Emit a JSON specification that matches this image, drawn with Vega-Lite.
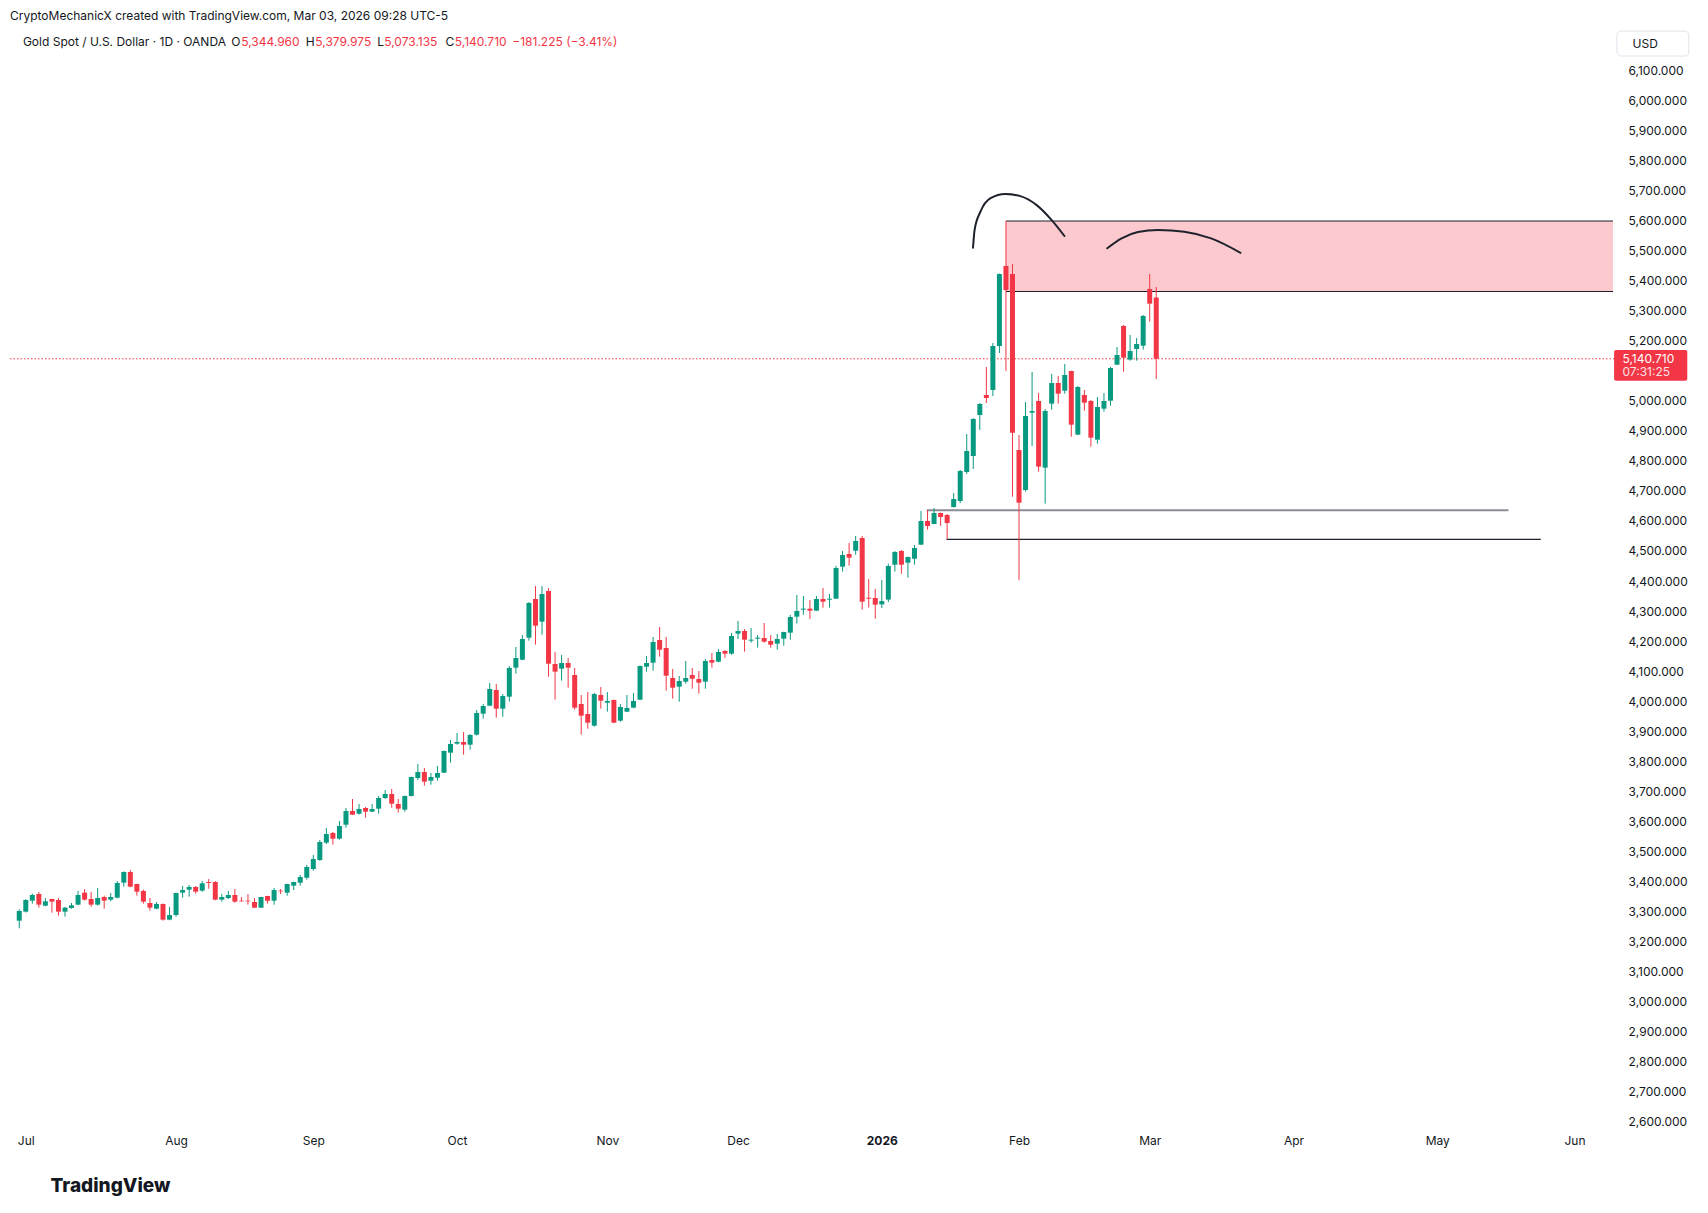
{
  "$schema": "https://vega.github.io/schema/vega-lite/v6.json",
  "width": 1608,
  "height": 1097,
  "autosize": {"type": "none"},
  "padding": {"left": 10, "top": 28, "right": 90, "bottom": 88},
  "background": "#ffffff",
  "title": {
    "text": "CryptoMechanicX created with TradingView.com, Mar 03, 2026 09:28 UTC-5",
    "anchor": "start",
    "frame": "group",
    "offset": 0,
    "baseline": "middle",
    "font": "Inter",
    "fontSize": 12,
    "fontWeight": 400,
    "color": "#131722"
  },
  "config": {
    "view": {"stroke": null},
    "font": "Inter",
    "axis": {
      "labelFlush": false,
      "labelOverlap": false,
      "labelBound": false,
      "grid": false,
      "domain": false,
      "ticks": false,
      "labelFont": "Inter",
      "labelFontSize": 12,
      "labelColor": "#131722",
      "labelPadding": 10,
      "titleFont": "Inter",
      "titleColor": "#131722"
    }
  },
  "datasets": {
    "bars": [
      {"bar": 1, "open": 3267.8, "high": 3305.6, "low": 3242.3, "close": 3300.0},
      {"bar": 2, "open": 3297.8, "high": 3340.0, "low": 3295.0, "close": 3336.7},
      {"bar": 3, "open": 3334.5, "high": 3357.8, "low": 3324.5, "close": 3353.4},
      {"bar": 4, "open": 3356.7, "high": 3363.4, "low": 3311.2, "close": 3321.2},
      {"bar": 5, "open": 3317.8, "high": 3343.4, "low": 3316.0, "close": 3332.3},
      {"bar": 6, "open": 3340.0, "high": 3341.0, "low": 3294.5, "close": 3331.2},
      {"bar": 7, "open": 3336.7, "high": 3343.4, "low": 3284.5, "close": 3297.8},
      {"bar": 8, "open": 3297.8, "high": 3313.4, "low": 3281.2, "close": 3311.2},
      {"bar": 9, "open": 3310.0, "high": 3326.7, "low": 3307.8, "close": 3318.9},
      {"bar": 10, "open": 3321.2, "high": 3366.7, "low": 3319.0, "close": 3353.4},
      {"bar": 11, "open": 3361.1, "high": 3373.4, "low": 3335.0, "close": 3337.8},
      {"bar": 12, "open": 3340.0, "high": 3363.4, "low": 3314.5, "close": 3321.2},
      {"bar": 13, "open": 3321.2, "high": 3376.7, "low": 3317.8, "close": 3343.4},
      {"bar": 14, "open": 3346.7, "high": 3351.2, "low": 3307.8, "close": 3334.5},
      {"bar": 15, "open": 3337.8, "high": 3360.0, "low": 3332.3, "close": 3346.7},
      {"bar": 16, "open": 3344.5, "high": 3400.0, "low": 3342.0, "close": 3393.4},
      {"bar": 17, "open": 3394.5, "high": 3432.0, "low": 3381.2, "close": 3430.0},
      {"bar": 18, "open": 3430.0, "high": 3436.7, "low": 3379.0, "close": 3381.2},
      {"bar": 19, "open": 3390.0, "high": 3391.0, "low": 3351.2, "close": 3364.5},
      {"bar": 20, "open": 3366.7, "high": 3371.2, "low": 3324.5, "close": 3331.2},
      {"bar": 21, "open": 3326.7, "high": 3343.4, "low": 3301.2, "close": 3311.2},
      {"bar": 22, "open": 3307.8, "high": 3330.0, "low": 3306.0, "close": 3323.4},
      {"bar": 23, "open": 3323.4, "high": 3325.0, "low": 3267.8, "close": 3271.2},
      {"bar": 24, "open": 3271.2, "high": 3313.4, "low": 3269.0, "close": 3286.7},
      {"bar": 25, "open": 3286.7, "high": 3361.0, "low": 3281.2, "close": 3360.0},
      {"bar": 26, "open": 3361.1, "high": 3383.3, "low": 3344.4, "close": 3370.0},
      {"bar": 27, "open": 3371.1, "high": 3386.7, "low": 3347.8, "close": 3380.0},
      {"bar": 28, "open": 3380.0, "high": 3383.3, "low": 3357.8, "close": 3364.4},
      {"bar": 29, "open": 3367.8, "high": 3400.0, "low": 3364.4, "close": 3392.2},
      {"bar": 30, "open": 3396.7, "high": 3406.7, "low": 3374.4, "close": 3393.3},
      {"bar": 31, "open": 3396.7, "high": 3400.0, "low": 3336.0, "close": 3337.8},
      {"bar": 32, "open": 3337.8, "high": 3356.7, "low": 3331.1, "close": 3346.7},
      {"bar": 33, "open": 3343.3, "high": 3366.7, "low": 3340.0, "close": 3353.3},
      {"bar": 34, "open": 3353.3, "high": 3373.3, "low": 3327.8, "close": 3331.1},
      {"bar": 35, "open": 3334.4, "high": 3346.7, "low": 3331.1, "close": 3332.2},
      {"bar": 36, "open": 3334.4, "high": 3356.7, "low": 3321.1, "close": 3332.2},
      {"bar": 37, "open": 3330.0, "high": 3343.3, "low": 3310.0, "close": 3311.1},
      {"bar": 38, "open": 3311.1, "high": 3347.0, "low": 3310.0, "close": 3346.7},
      {"bar": 39, "open": 3350.0, "high": 3351.0, "low": 3324.4, "close": 3334.4},
      {"bar": 40, "open": 3334.4, "high": 3376.7, "low": 3321.1, "close": 3370.0},
      {"bar": 41, "open": 3367.8, "high": 3373.3, "low": 3356.7, "close": 3365.6},
      {"bar": 42, "open": 3361.1, "high": 3391.0, "low": 3351.1, "close": 3390.0},
      {"bar": 43, "open": 3384.4, "high": 3398.0, "low": 3370.0, "close": 3396.7},
      {"bar": 44, "open": 3394.4, "high": 3420.0, "low": 3384.4, "close": 3413.3},
      {"bar": 45, "open": 3411.1, "high": 3453.3, "low": 3404.4, "close": 3446.7},
      {"bar": 46, "open": 3440.0, "high": 3486.7, "low": 3434.4, "close": 3473.3},
      {"bar": 47, "open": 3470.0, "high": 3536.7, "low": 3466.7, "close": 3530.0},
      {"bar": 48, "open": 3527.8, "high": 3576.7, "low": 3523.3, "close": 3556.7},
      {"bar": 49, "open": 3560.0, "high": 3563.3, "low": 3521.1, "close": 3541.1},
      {"bar": 50, "open": 3541.1, "high": 3600.0, "low": 3537.8, "close": 3583.3},
      {"bar": 51, "open": 3587.8, "high": 3643.3, "low": 3577.8, "close": 3633.3},
      {"bar": 52, "open": 3633.3, "high": 3673.3, "low": 3620.0, "close": 3621.1},
      {"bar": 53, "open": 3624.4, "high": 3656.7, "low": 3621.1, "close": 3640.0},
      {"bar": 54, "open": 3643.3, "high": 3646.7, "low": 3611.1, "close": 3631.1},
      {"bar": 55, "open": 3631.1, "high": 3656.7, "low": 3630.0, "close": 3640.0},
      {"bar": 56, "open": 3641.1, "high": 3683.3, "low": 3624.4, "close": 3676.7},
      {"bar": 57, "open": 3676.7, "high": 3703.3, "low": 3673.3, "close": 3690.0},
      {"bar": 58, "open": 3690.0, "high": 3706.7, "low": 3644.4, "close": 3657.8},
      {"bar": 59, "open": 3656.7, "high": 3673.3, "low": 3627.8, "close": 3641.1},
      {"bar": 60, "open": 3637.8, "high": 3685.0, "low": 3631.1, "close": 3683.3},
      {"bar": 61, "open": 3683.3, "high": 3748.0, "low": 3682.0, "close": 3746.7},
      {"bar": 62, "open": 3743.3, "high": 3790.0, "low": 3736.7, "close": 3763.3},
      {"bar": 63, "open": 3763.3, "high": 3776.7, "low": 3717.8, "close": 3731.1},
      {"bar": 64, "open": 3734.4, "high": 3760.0, "low": 3721.1, "close": 3746.7},
      {"bar": 65, "open": 3744.4, "high": 3783.3, "low": 3734.4, "close": 3760.0},
      {"bar": 66, "open": 3761.1, "high": 3835.0, "low": 3760.0, "close": 3833.3},
      {"bar": 67, "open": 3827.8, "high": 3870.0, "low": 3794.4, "close": 3856.7},
      {"bar": 68, "open": 3857.8, "high": 3893.3, "low": 3854.4, "close": 3863.3},
      {"bar": 69, "open": 3863.3, "high": 3896.7, "low": 3821.1, "close": 3854.4},
      {"bar": 70, "open": 3854.4, "high": 3890.0, "low": 3837.8, "close": 3886.7},
      {"bar": 71, "open": 3887.8, "high": 3970.0, "low": 3884.4, "close": 3960.0},
      {"bar": 72, "open": 3957.8, "high": 3990.0, "low": 3941.1, "close": 3983.3},
      {"bar": 73, "open": 3984.4, "high": 4060.0, "low": 3983.0, "close": 4040.0},
      {"bar": 74, "open": 4036.7, "high": 4056.7, "low": 3944.4, "close": 3974.4},
      {"bar": 75, "open": 3974.4, "high": 4023.3, "low": 3947.8, "close": 4016.7},
      {"bar": 76, "open": 4014.4, "high": 4116.7, "low": 3997.8, "close": 4110.0},
      {"bar": 77, "open": 4111.1, "high": 4180.0, "low": 4091.1, "close": 4143.3},
      {"bar": 78, "open": 4137.8, "high": 4220.0, "low": 4136.0, "close": 4206.7},
      {"bar": 79, "open": 4211.1, "high": 4330.0, "low": 4201.1, "close": 4326.7},
      {"bar": 80, "open": 4340.0, "high": 4383.3, "low": 4187.8, "close": 4251.1},
      {"bar": 81, "open": 4264.4, "high": 4383.3, "low": 4221.1, "close": 4356.7},
      {"bar": 82, "open": 4366.7, "high": 4376.7, "low": 4081.1, "close": 4124.4},
      {"bar": 83, "open": 4123.3, "high": 4163.3, "low": 4004.4, "close": 4097.8},
      {"bar": 84, "open": 4107.8, "high": 4153.3, "low": 4067.8, "close": 4126.7},
      {"bar": 85, "open": 4126.7, "high": 4143.3, "low": 4044.4, "close": 4111.1},
      {"bar": 86, "open": 4086.7, "high": 4110.0, "low": 3971.1, "close": 3977.8},
      {"bar": 87, "open": 3990.0, "high": 4020.0, "low": 3887.8, "close": 3951.1},
      {"bar": 88, "open": 3956.7, "high": 4030.0, "low": 3907.8, "close": 3927.8},
      {"bar": 89, "open": 3917.8, "high": 4026.7, "low": 3914.4, "close": 4023.3},
      {"bar": 90, "open": 4020.0, "high": 4046.7, "low": 3974.4, "close": 4001.1},
      {"bar": 91, "open": 3994.4, "high": 4030.0, "low": 3964.4, "close": 4000.0},
      {"bar": 92, "open": 4003.3, "high": 4005.0, "low": 3926.0, "close": 3927.8},
      {"bar": 93, "open": 3934.4, "high": 3990.0, "low": 3931.1, "close": 3980.0},
      {"bar": 94, "open": 3964.4, "high": 4020.0, "low": 3963.0, "close": 3976.7},
      {"bar": 95, "open": 3977.8, "high": 4026.7, "low": 3976.0, "close": 4000.0},
      {"bar": 96, "open": 4004.4, "high": 4118.0, "low": 4003.0, "close": 4116.7},
      {"bar": 97, "open": 4114.4, "high": 4150.0, "low": 4097.8, "close": 4126.7},
      {"bar": 98, "open": 4127.8, "high": 4213.3, "low": 4101.1, "close": 4196.7},
      {"bar": 99, "open": 4203.3, "high": 4246.7, "low": 4147.8, "close": 4171.1},
      {"bar": 100, "open": 4176.7, "high": 4213.3, "low": 4034.4, "close": 4084.4},
      {"bar": 101, "open": 4076.7, "high": 4106.7, "low": 4007.8, "close": 4044.4},
      {"bar": 102, "open": 4047.8, "high": 4083.3, "low": 3997.8, "close": 4066.7},
      {"bar": 103, "open": 4064.4, "high": 4133.3, "low": 4057.8, "close": 4076.7},
      {"bar": 104, "open": 4086.7, "high": 4110.0, "low": 4041.1, "close": 4074.4},
      {"bar": 105, "open": 4073.3, "high": 4100.0, "low": 4024.4, "close": 4061.1},
      {"bar": 106, "open": 4064.4, "high": 4140.0, "low": 4041.1, "close": 4133.3},
      {"bar": 107, "open": 4136.7, "high": 4160.0, "low": 4111.1, "close": 4127.8},
      {"bar": 108, "open": 4131.1, "high": 4173.3, "low": 4129.0, "close": 4163.3},
      {"bar": 109, "open": 4166.7, "high": 4170.0, "low": 4144.4, "close": 4157.8},
      {"bar": 110, "open": 4157.8, "high": 4226.7, "low": 4154.4, "close": 4216.7},
      {"bar": 111, "open": 4224.4, "high": 4266.7, "low": 4206.7, "close": 4233.3},
      {"bar": 112, "open": 4233.3, "high": 4240.0, "low": 4164.4, "close": 4204.4},
      {"bar": 113, "open": 4201.1, "high": 4243.3, "low": 4194.4, "close": 4204.4},
      {"bar": 114, "open": 4207.8, "high": 4220.0, "low": 4177.8, "close": 4211.1},
      {"bar": 115, "open": 4210.0, "high": 4260.0, "low": 4194.4, "close": 4197.8},
      {"bar": 116, "open": 4200.0, "high": 4220.0, "low": 4177.8, "close": 4187.8},
      {"bar": 117, "open": 4191.1, "high": 4223.3, "low": 4171.1, "close": 4206.7},
      {"bar": 118, "open": 4207.8, "high": 4231.0, "low": 4184.4, "close": 4230.0},
      {"bar": 119, "open": 4227.8, "high": 4286.7, "low": 4204.4, "close": 4280.0},
      {"bar": 120, "open": 4281.1, "high": 4353.3, "low": 4257.8, "close": 4300.0},
      {"bar": 121, "open": 4304.4, "high": 4350.0, "low": 4287.8, "close": 4307.8},
      {"bar": 122, "open": 4307.8, "high": 4336.7, "low": 4273.3, "close": 4301.1},
      {"bar": 123, "open": 4301.1, "high": 4350.0, "low": 4300.0, "close": 4340.0},
      {"bar": 124, "open": 4340.0, "high": 4376.7, "low": 4311.1, "close": 4331.1},
      {"bar": 125, "open": 4337.8, "high": 4356.7, "low": 4311.1, "close": 4341.1},
      {"bar": 126, "open": 4341.1, "high": 4450.0, "low": 4340.0, "close": 4443.3},
      {"bar": 127, "open": 4447.8, "high": 4500.0, "low": 4431.1, "close": 4486.7},
      {"bar": 128, "open": 4490.0, "high": 4526.7, "low": 4451.1, "close": 4477.8},
      {"bar": 129, "open": 4501.1, "high": 4550.0, "low": 4487.8, "close": 4533.3},
      {"bar": 130, "open": 4543.3, "high": 4550.0, "low": 4304.4, "close": 4331.1},
      {"bar": 131, "open": 4344.4, "high": 4406.7, "low": 4311.1, "close": 4341.1},
      {"bar": 132, "open": 4343.3, "high": 4373.3, "low": 4274.4, "close": 4321.1},
      {"bar": 133, "open": 4322.0, "high": 4403.3, "low": 4310.0, "close": 4333.0},
      {"bar": 134, "open": 4338.0, "high": 4457.8, "low": 4330.0, "close": 4450.0},
      {"bar": 135, "open": 4454.4, "high": 4500.0, "low": 4431.1, "close": 4496.7},
      {"bar": 136, "open": 4500.0, "high": 4503.3, "low": 4424.4, "close": 4454.4},
      {"bar": 137, "open": 4461.1, "high": 4481.0, "low": 4411.1, "close": 4480.0},
      {"bar": 138, "open": 4474.4, "high": 4520.0, "low": 4454.4, "close": 4510.0},
      {"bar": 139, "open": 4521.1, "high": 4633.3, "low": 4520.0, "close": 4600.0},
      {"bar": 140, "open": 4600.0, "high": 4636.7, "low": 4571.1, "close": 4583.3},
      {"bar": 141, "open": 4590.0, "high": 4643.3, "low": 4589.0, "close": 4626.7},
      {"bar": 142, "open": 4626.7, "high": 4628.0, "low": 4583.3, "close": 4613.3},
      {"bar": 143, "open": 4620.0, "high": 4623.3, "low": 4538.9, "close": 4593.3},
      {"bar": 144, "open": 4646.7, "high": 4693.3, "low": 4645.0, "close": 4673.3},
      {"bar": 145, "open": 4666.7, "high": 4770.0, "low": 4660.0, "close": 4766.7},
      {"bar": 146, "open": 4763.3, "high": 4890.0, "low": 4756.7, "close": 4833.3},
      {"bar": 147, "open": 4816.7, "high": 4943.3, "low": 4773.3, "close": 4940.0},
      {"bar": 148, "open": 4953.3, "high": 4993.3, "low": 4903.3, "close": 4990.0},
      {"bar": 149, "open": 5020.0, "high": 5113.3, "low": 4993.3, "close": 5010.0},
      {"bar": 150, "open": 5036.7, "high": 5193.3, "low": 5016.7, "close": 5183.3},
      {"bar": 151, "open": 5183.3, "high": 5425.0, "low": 5160.0, "close": 5423.3},
      {"bar": 152, "open": 5450.0, "high": 5600.0, "low": 5100.0, "close": 5370.0},
      {"bar": 153, "open": 5423.3, "high": 5456.7, "low": 4681.1, "close": 4894.4},
      {"bar": 154, "open": 4836.7, "high": 4886.7, "low": 4403.0, "close": 4661.1},
      {"bar": 155, "open": 4703.3, "high": 4996.7, "low": 4697.8, "close": 4950.0},
      {"bar": 156, "open": 4961.1, "high": 5096.7, "low": 4850.0, "close": 4966.7},
      {"bar": 157, "open": 5000.0, "high": 5026.7, "low": 4764.4, "close": 4781.1},
      {"bar": 158, "open": 4777.8, "high": 4973.3, "low": 4657.8, "close": 4966.7},
      {"bar": 159, "open": 4991.1, "high": 5090.0, "low": 4971.1, "close": 5060.0},
      {"bar": 160, "open": 5060.0, "high": 5083.3, "low": 4991.1, "close": 5024.4},
      {"bar": 161, "open": 5034.4, "high": 5123.3, "low": 5024.4, "close": 5086.7},
      {"bar": 162, "open": 5100.0, "high": 5101.0, "low": 4881.1, "close": 4921.1},
      {"bar": 163, "open": 4887.8, "high": 5050.0, "low": 4886.0, "close": 5046.7},
      {"bar": 164, "open": 5020.0, "high": 5036.7, "low": 4967.8, "close": 4994.4},
      {"bar": 165, "open": 5000.0, "high": 5003.3, "low": 4847.8, "close": 4877.8},
      {"bar": 166, "open": 4871.1, "high": 5013.3, "low": 4857.8, "close": 4980.0},
      {"bar": 167, "open": 4974.4, "high": 5026.7, "low": 4964.4, "close": 5000.0},
      {"bar": 168, "open": 5001.1, "high": 5113.3, "low": 4984.4, "close": 5110.0},
      {"bar": 169, "open": 5121.1, "high": 5180.0, "low": 5120.0, "close": 5153.3},
      {"bar": 170, "open": 5250.0, "high": 5253.3, "low": 5097.8, "close": 5144.4},
      {"bar": 171, "open": 5137.8, "high": 5220.0, "low": 5134.4, "close": 5166.7},
      {"bar": 172, "open": 5173.3, "high": 5210.0, "low": 5134.4, "close": 5190.0},
      {"bar": 173, "open": 5184.4, "high": 5286.7, "low": 5171.1, "close": 5283.3},
      {"bar": 174, "open": 5373.3, "high": 5423.3, "low": 5264.4, "close": 5324.4},
      {"bar": 175, "open": 5344.96, "high": 5379.975, "low": 5073.135, "close": 5140.71}
    ],
    "arcs": [
      {"arc": "first", "bar": 146.96, "price": 5511},
      {"arc": "first", "bar": 147.2, "price": 5570},
      {"arc": "first", "bar": 148.1, "price": 5631},
      {"arc": "first", "bar": 149.65, "price": 5676},
      {"arc": "first", "bar": 151.9, "price": 5690},
      {"arc": "first", "bar": 154.2, "price": 5683},
      {"arc": "first", "bar": 156.7, "price": 5653},
      {"arc": "first", "bar": 159.0, "price": 5603},
      {"arc": "first", "bar": 160.95, "price": 5550},
      {"arc": "second", "bar": 167.5, "price": 5509},
      {"arc": "second", "bar": 169.7, "price": 5542},
      {"arc": "second", "bar": 172.2, "price": 5563},
      {"arc": "second", "bar": 175.3, "price": 5570},
      {"arc": "second", "bar": 179.3, "price": 5564},
      {"arc": "second", "bar": 183.4, "price": 5542},
      {"arc": "second", "bar": 187.9, "price": 5494}
    ]
  },
  "layer": [
    {
      "data": {"values": [{}]},
      "mark": {"type": "rect", "color": "#fbc9ce"},
      "encoding": {
        "x": {"datum": 152, "type": "quantitative"},
        "x2": {"datum": 244.9},
        "y": {"datum": 5600, "type": "quantitative"},
        "y2": {"datum": 5365}
      }
    },
    {
      "data": {"values": [{}]},
      "mark": {"type": "rule", "color": "#f23645", "strokeWidth": 1, "strokeDash": [1.5, 2]},
      "encoding": {
        "y": {"datum": 5140.71, "type": "quantitative"}
      }
    },
    {
      "data": {"values": [{}]},
      "mark": {"type": "rule", "color": "#1e222d", "strokeWidth": 1.2},
      "encoding": {
        "x": {"datum": 152, "type": "quantitative"},
        "x2": {"datum": 244.9},
        "y": {"datum": 5600, "type": "quantitative"}
      }
    },
    {
      "data": {"values": [{}]},
      "mark": {"type": "rule", "color": "#1e222d", "strokeWidth": 1.2},
      "encoding": {
        "x": {"datum": 152, "type": "quantitative"},
        "x2": {"datum": 244.9},
        "y": {"datum": 5365, "type": "quantitative"}
      }
    },
    {
      "data": {"values": [{}]},
      "mark": {"type": "rule", "color": "#8a8d96", "strokeWidth": 2},
      "encoding": {
        "x": {"datum": 139.9, "type": "quantitative"},
        "x2": {"datum": 228.9},
        "y": {"datum": 4636, "type": "quantitative"}
      }
    },
    {
      "data": {"values": [{}]},
      "mark": {"type": "rule", "color": "#1e222d", "strokeWidth": 1.2},
      "encoding": {
        "x": {"datum": 142.9, "type": "quantitative"},
        "x2": {"datum": 233.85},
        "y": {"datum": 4539, "type": "quantitative"}
      }
    },
    {
      "data": {"name": "bars"},
      "mark": {"type": "rule", "strokeWidth": 1},
      "encoding": {
        "x": {"field": "bar", "type": "quantitative", "title": "TradingView",
              "scale": {"domain": [0.35, 244.9], "nice": false, "zero": false}},
        "y": {"field": "low", "type": "quantitative", "title": "USD",
              "scale": {"domain": [2586.7, 6243.3], "nice": false, "zero": false}},
        "y2": {"field": "high"},
        "color": {
          "condition": {"test": "datum.close >= datum.open", "value": "#089981"},
          "value": "#f23645"
        }
      }
    },
    {
      "data": {"name": "bars"},
      "mark": {"type": "bar", "width": 5},
      "encoding": {
        "x": {
          "field": "bar",
          "type": "quantitative",
          "title": "TradingView",
          "scale": {"domain": [0.35, 244.9], "nice": false, "zero": false},
          "axis": {
            "values": [2, 25, 46, 68, 91, 111, 133, 154, 174, 196, 218, 239],
            "tickCount": 100,
            "labelExpr": "datum.value == 2 ? 'Jul' : datum.value == 25 ? 'Aug' : datum.value == 46 ? 'Sep' : datum.value == 68 ? 'Oct' : datum.value == 91 ? 'Nov' : datum.value == 111 ? 'Dec' : datum.value == 133 ? '2026' : datum.value == 154 ? 'Feb' : datum.value == 174 ? 'Mar' : datum.value == 196 ? 'Apr' : datum.value == 218 ? 'May' : 'Jun'",
            "labelFontWeight": {"condition": {"test": "datum.value == 133", "value": 700}, "value": 400},
            "labelFlush": false,
            "labelOverlap": false,
            "titleFontSize": 19,
            "titleFontWeight": 800,
            "titleAlign": "left",
            "titleBaseline": "middle",
            "titleX": 40,
            "titleY": 60
          }
        },
        "y": {
          "field": "open",
          "type": "quantitative",
          "title": "USD",
          "scale": {"domain": [2586.7, 6243.3], "nice": false, "zero": false},
          "axis": {
            "orient": "right",
            "values": [2600, 2700, 2800, 2900, 3000, 3100, 3200, 3300, 3400, 3500, 3600, 3700, 3800, 3900, 4000, 4100, 4200, 4300, 4400, 4500, 4600, 4700, 4800, 4900, 5000, 5200, 5300, 5400, 5500, 5600, 5700, 5800, 5900, 6000, 6100],
            "tickCount": 100,
            "format": ",.3f",
            "labelAlign": "left",
            "labelBaseline": "middle",
            "labelOverlap": false,
            "titleFontSize": 12,
            "titleFontWeight": 400,
            "titleAngle": 0,
            "titleAlign": "left",
            "titleBaseline": "middle",
            "titleX": 14,
            "titleY": 15
          }
        },
        "y2": {"field": "close"},
        "color": {
          "condition": {"test": "datum.close >= datum.open", "value": "#089981"},
          "value": "#f23645"
        }
      }
    },
    {
      "data": {"name": "arcs"},
      "mark": {"type": "line", "color": "#1e222d", "strokeWidth": 2, "interpolate": "monotone", "strokeCap": "round"},
      "encoding": {
        "x": {"field": "bar", "type": "quantitative", "title": "TradingView"},
        "y": {"field": "price", "type": "quantitative", "title": "USD"},
        "detail": {"field": "arc"}
      }
    },
    {
      "data": {"values": [{}]},
      "mark": {"type": "rect", "fillOpacity": 0, "stroke": "#e0e3eb", "strokeWidth": 1, "cornerRadius": 4},
      "encoding": {
        "x": {"datum": 245.5, "type": "quantitative"},
        "x2": {"datum": 256.5},
        "y": {"datum": 6233, "type": "quantitative"},
        "y2": {"datum": 6150}
      }
    },
    {
      "data": {"values": [{}]},
      "mark": {"type": "rect", "color": "#f23645", "cornerRadius": 2},
      "encoding": {
        "x": {"datum": 245.07, "type": "quantitative"},
        "x2": {"datum": 256.27},
        "y": {"datum": 5170, "type": "quantitative"},
        "y2": {"datum": 5067.7}
      }
    },
    {
      "data": {"values": [{}]},
      "mark": {"type": "text", "align": "left", "baseline": "middle", "font": "Inter", "fontSize": 12, "color": "#ffffff"},
      "encoding": {
        "x": {"datum": 246.35, "type": "quantitative"},
        "y": {"datum": 5140.71, "type": "quantitative"},
        "text": {"value": "5,140.710"}
      }
    },
    {
      "data": {"values": [{}]},
      "mark": {"type": "text", "align": "left", "baseline": "middle", "font": "Inter", "fontSize": 12, "color": "#ffffff", "opacity": 0.85},
      "encoding": {
        "x": {"datum": 246.35, "type": "quantitative"},
        "y": {"datum": 5098, "type": "quantitative"},
        "text": {"value": "07:31:25"}
      }
    },
    {
      "data": {"values": [{}]},
      "mark": {"type": "text", "align": "left", "baseline": "middle", "font": "Inter", "fontSize": 12, "color": "#131722"},
      "encoding": {
        "x": {"datum": 1.56, "type": "quantitative"},
        "y": {"datum": 6195, "type": "quantitative"},
        "text": {"value": "Gold Spot / U.S. Dollar · 1D · OANDA"}
      }
    },
    {
      "data": {"values": [{}]},
      "mark": {"type": "text", "align": "left", "baseline": "middle", "font": "Inter", "fontSize": 12, "color": "#131722"},
      "encoding": {
        "x": {"datum": 33.43, "type": "quantitative"},
        "y": {"datum": 6195, "type": "quantitative"},
        "text": {"value": "O"}
      }
    },
    {
      "data": {"values": [{}]},
      "mark": {"type": "text", "align": "left", "baseline": "middle", "font": "Inter", "fontSize": 12, "color": "#f23645"},
      "encoding": {
        "x": {"datum": 34.96, "type": "quantitative"},
        "y": {"datum": 6195, "type": "quantitative"},
        "text": {"value": "5,344.960"}
      }
    },
    {
      "data": {"values": [{}]},
      "mark": {"type": "text", "align": "left", "baseline": "middle", "font": "Inter", "fontSize": 12, "color": "#131722"},
      "encoding": {
        "x": {"datum": 44.85, "type": "quantitative"},
        "y": {"datum": 6195, "type": "quantitative"},
        "text": {"value": "H"}
      }
    },
    {
      "data": {"values": [{}]},
      "mark": {"type": "text", "align": "left", "baseline": "middle", "font": "Inter", "fontSize": 12, "color": "#f23645"},
      "encoding": {
        "x": {"datum": 46.31, "type": "quantitative"},
        "y": {"datum": 6195, "type": "quantitative"},
        "text": {"value": "5,379.975"}
      }
    },
    {
      "data": {"values": [{}]},
      "mark": {"type": "text", "align": "left", "baseline": "middle", "font": "Inter", "fontSize": 12, "color": "#131722"},
      "encoding": {
        "x": {"datum": 55.8, "type": "quantitative"},
        "y": {"datum": 6195, "type": "quantitative"},
        "text": {"value": "L"}
      }
    },
    {
      "data": {"values": [{}]},
      "mark": {"type": "text", "align": "left", "baseline": "middle", "font": "Inter", "fontSize": 12, "color": "#f23645"},
      "encoding": {
        "x": {"datum": 56.85, "type": "quantitative"},
        "y": {"datum": 6195, "type": "quantitative"},
        "text": {"value": "5,073.135"}
      }
    },
    {
      "data": {"values": [{}]},
      "mark": {"type": "text", "align": "left", "baseline": "middle", "font": "Inter", "fontSize": 12, "color": "#131722"},
      "encoding": {
        "x": {"datum": 66.23, "type": "quantitative"},
        "y": {"datum": 6195, "type": "quantitative"},
        "text": {"value": "C"}
      }
    },
    {
      "data": {"values": [{}]},
      "mark": {"type": "text", "align": "left", "baseline": "middle", "font": "Inter", "fontSize": 12, "color": "#f23645"},
      "encoding": {
        "x": {"datum": 67.65, "type": "quantitative"},
        "y": {"datum": 6195, "type": "quantitative"},
        "text": {"value": "5,140.710"}
      }
    },
    {
      "data": {"values": [{}]},
      "mark": {"type": "text", "align": "left", "baseline": "middle", "font": "Inter", "fontSize": 12, "color": "#f23645"},
      "encoding": {
        "x": {"datum": 76.45, "type": "quantitative"},
        "y": {"datum": 6195, "type": "quantitative"},
        "text": {"value": "−181.225 (−3.41%)"}
      }
    }
  ]
}
